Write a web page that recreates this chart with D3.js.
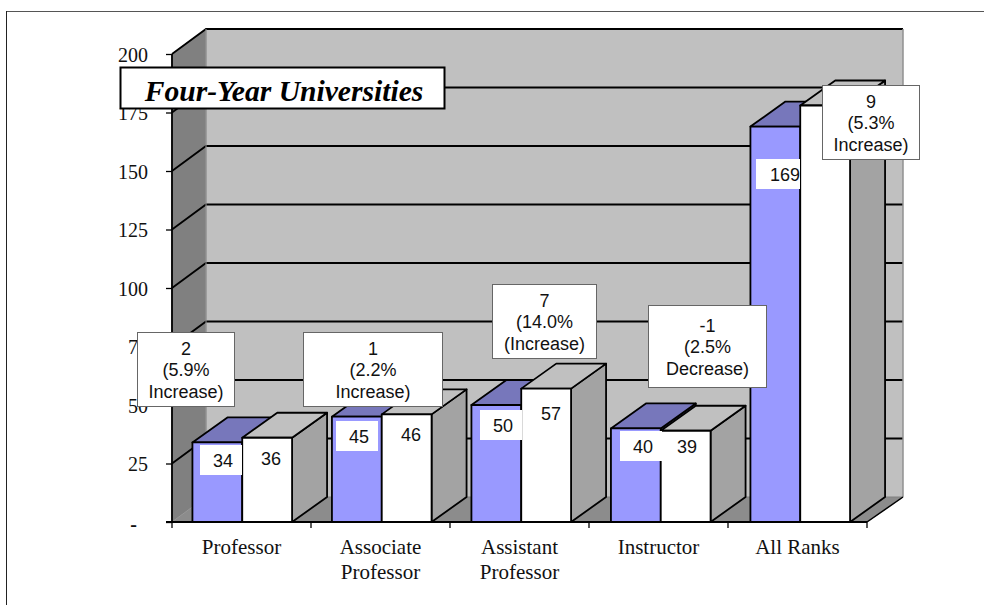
<!DOCTYPE html>
<html><head><meta charset="utf-8">
<script src="https://cdn.jsdelivr.net/npm/d3@7"></script>
<style>html,body{margin:0;padding:0;background:#fff}svg{display:block}</style>
</head><body><svg id="c" width="984" height="605"></svg>
<script>
const categories = ["Professor","Associate Professor","Assistant Professor","Instructor","All Ranks"];
const seriesA = [34,45,50,40,169];
const seriesB = [36,46,57,39,178];
const labelsB = [36,46,57,39,null];
const yTicks = [0,25,50,75,100,125,150,175,200];
const notes = [
  ["2","(5.9%","Increase)"],
  ["1","(2.2%","Increase)"],
  ["7","(14.0%","(Increase)"],
  ["-1","(2.5%","Decrease)"],
  ["9","(5.3%","Increase)"]
];
const title = "Four-Year Universities";

const svg = d3.select("#c");
const serif = "'Liberation Serif','Times New Roman',serif", sans = "'Liberation Sans',Arial,sans-serif";
const DX = 34, DY = 25, BDX = 35, RDX = 36;
const y = d3.scaleLinear().domain([0,200]).range([522,54]);
const x = d3.scaleBand().domain(categories).range([172,867]);
const xBar = d3.scaleBand().domain(categories).range([172.5,870]);
const inner = d3.scaleBand().domain([0,1]).range([0,xBar.bandwidth()]).paddingOuter(0.4);
const pts = a => a.map(p=>p.join(",")).join(" ");

svg.append("line").attr("x1",6).attr("x2",984).attr("y1",11.5).attr("y2",11.5).attr("stroke","#555").attr("stroke-width",1);
svg.append("line").attr("x1",6.5).attr("x2",6.5).attr("y1",11).attr("y2",605).attr("stroke","#222").attr("stroke-width",1);

const x0=172,x1=867,yb=y(0),yt=y(200);
svg.append("polygon").attr("points",pts([[x0+DX,yt-DY],[x1+RDX,yt-DY],[x1+RDX,yb-DY],[x0+DX,yb-DY]])).attr("fill","#c0c0c0");
svg.append("polygon").attr("points",pts([[x0,yt],[x0+DX,yt-DY],[x0+DX,yb-DY],[x0,yb]])).attr("fill","#808080").attr("stroke","#808080");
svg.append("polygon").attr("points",pts([[x0,yb],[x0+DX,yb-DY],[x1+RDX,yb-DY],[x1,yb]])).attr("fill","#8c8c8c").attr("stroke","#808080");
yTicks.slice(1).forEach(t=>{
  svg.append("polyline").attr("points",pts([[x0,y(t)],[x0+DX,y(t)-DY],[x1+RDX,y(t)-DY]])).attr("fill","none").attr("stroke","#000").attr("stroke-width",1.8);
});
svg.append("line").attr("x1",x0+DX).attr("x2",x0+DX).attr("y1",yt-DY).attr("y2",yb-DY).attr("stroke","#999").attr("stroke-width",1);
svg.append("line").attr("x1",x1+RDX).attr("x2",x1+RDX).attr("y1",yt-DY).attr("y2",yb-DY).attr("stroke","#909090").attr("stroke-width",1.5);
svg.append("polyline").attr("points",pts([[x0,yb],[x0+DX,yb-DY]])).attr("fill","none").attr("stroke","#999").attr("stroke-width",1);

const axY = d3.axisLeft(y).tickValues(yTicks).tickSize(6).tickPadding(18).tickFormat(d=>d===0?"-":d);
const gy = svg.append("g").attr("transform",`translate(${x0},0)`).call(axY);
gy.select(".domain").attr("stroke","#000").attr("stroke-width",1.8).attr("d",`M0,${yt}V${yb}`);
gy.selectAll(".tick line").attr("stroke","#000").attr("stroke-width",1.3);
gy.selectAll("text").attr("font-family",serif).attr("font-size",20).attr("fill","#111").attr("dy","0.36em");
gy.selectAll(".tick").filter(d=>d===0).select("text").attr("x",-35).attr("dy","0.4em").attr("font-weight","bold");
svg.append("line").attr("x1",x0-6).attr("x2",x1).attr("y1",yb).attr("y2",yb).attr("stroke","#000").attr("stroke-width",1.8);
const bounds = categories.map(c=>x(c)).concat([x1]);
svg.selectAll("line.xt").data(bounds).join("line").attr("class","xt").attr("x1",d=>d).attr("x2",d=>d).attr("y1",yb).attr("y2",yb+6).attr("stroke","#000").attr("stroke-width",1.3);
svg.append("line").attr("x1",x1).attr("x2",x1+RDX).attr("y1",yb).attr("y2",yb-DY).attr("stroke","#000").attr("stroke-width",1.5);

const lines = {"Associate Professor":["Associate","Professor"],"Assistant Professor":["Assistant","Professor"]};
categories.forEach(c=>{
  const t = svg.append("text").attr("text-anchor","middle").attr("font-family",serif).attr("font-size",21).attr("fill","#111");
  (lines[c]||[c]).forEach((s,i)=>t.append("tspan").attr("x",x(c)+x.bandwidth()/2).attr("y",553.5+i*25).text(s));
});

const g = svg.append("g").attr("stroke","#000").attr("stroke-width",1.8).attr("stroke-linejoin","round");
function bar(cat,val,k,front,top,side){
  const l=xBar(cat)+inner(k), r=l+inner.bandwidth(), t=y(val), b=y(0);
  g.append("polygon").attr("points",pts([[r,t],[r+BDX,t-DY],[r+BDX,b-DY],[r,b]])).attr("fill",side);
  g.append("polygon").attr("points",pts([[l,t],[l+BDX,t-DY],[r+BDX,t-DY],[r,t]])).attr("fill",top);
  g.append("rect").attr("x",l).attr("y",t).attr("width",r-l).attr("height",b-t).attr("fill",front);
}
categories.forEach((c,i)=>{
  bar(c,seriesA[i],0,"#9999ff","#7777bb","#7777bb");
  bar(c,seriesB[i],1,"#ffffff","#c0c0c0","#a3a3a3");
});

const aBoxX=[200,336,480,620,756], aBoxY=[445,421,410,431,159];
const bTextX=[271,411,551,687];
categories.forEach((c,i)=>{
  svg.append("rect").attr("x",aBoxX[i]).attr("y",aBoxY[i]).attr("width",i===4?44:42).attr("height",30).attr("fill","#fff");
  svg.append("text").attr("x",aBoxX[i]+(i===4?29:23)).attr("y",aBoxY[i]+22).attr("text-anchor","middle").attr("font-family",sans).attr("font-size",18).attr("fill","#111").text(seriesA[i]);
  if(labelsB[i]!==null) svg.append("text").attr("x",bTextX[i]).attr("y",[464.5,441,419.5,453][i]).attr("text-anchor","middle").attr("font-family",sans).attr("font-size",18).attr("fill","#111").text(labelsB[i]);
});

const boxes=[[137,332,97,74],[303,332,139,74],[492,284,104,74],[648,305,118,82],[822,85,97,74]];
notes.forEach((n,i)=>{
  const [bx,by,bw,bh]=boxes[i];
  svg.append("rect").attr("x",bx+.5).attr("y",by+.5).attr("width",bw).attr("height",bh).attr("fill","#fff").attr("stroke","#666").attr("stroke-width",1);
  const pad=(bh-66)/2;
  n.forEach((s,j)=>svg.append("text").attr("x",bx+bw/2+.5).attr("y",by+pad+18.5+j*21.5).attr("text-anchor","middle").attr("font-family",sans).attr("font-size",18).attr("fill","#111").text(s));
});

svg.append("rect").attr("x",120.5).attr("y",67.5).attr("width",324).attr("height",41).attr("fill","#fff").attr("stroke","#000").attr("stroke-width",2);
svg.append("text").attr("x",284).attr("y",101).attr("text-anchor","middle").attr("font-family",serif).attr("font-size",29.6).attr("font-weight","bold").attr("font-style","italic").attr("fill","#000").text(title);
</script></body></html>
